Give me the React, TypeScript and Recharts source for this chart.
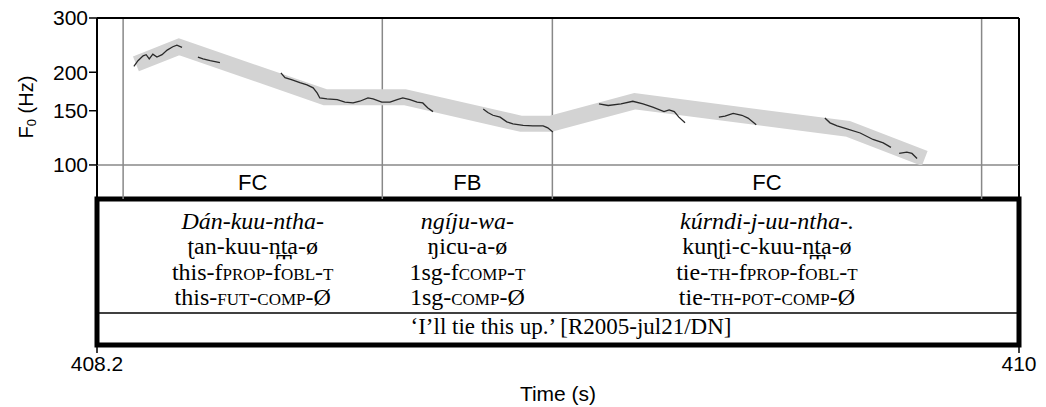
import React from "react";
import { ComposedChart, Line, XAxis, YAxis, ReferenceLine, ReferenceArea } from "recharts";

// time axis (s) and F0 ticks (Hz)
const timeTicks = [408.2, 410];
const hzTicks = [100, 150, 200, 300];

// tier boundaries and labels
const tierEdges = [408.251, 408.757, 409.089, 409.927];
const tierNames = ["FC", "FB", "FC"];

// stylised contour (grey band)
const bandTime = [408.276, 408.36, 408.645, 408.801, 409.028, 409.086, 409.25, 409.666, 409.816];
const bandHz = [213, 242, 166, 166, 136, 136, 161, 131, 105];

// measured F0 traces [time, Hz]
const trace1 = [[408.272, 209], [408.28, 218], [408.29, 226], [408.296, 228], [408.302, 221], [408.309, 229], [408.317, 224], [408.327, 228], [408.337, 236], [408.348, 242], [408.356, 245], [408.366, 241]];
const trace2 = [[408.397, 224], [408.407, 221], [408.421, 218], [408.44, 215]];
const trace3 = [[408.559, 199], [408.567, 192], [408.581, 189], [408.596, 185], [408.61, 182], [408.622, 178], [408.63, 171], [408.635, 165], [408.649, 164], [408.669, 163], [408.684, 160], [408.7, 159], [408.713, 161], [408.729, 165], [408.739, 164], [408.756, 160], [408.772, 160], [408.786, 163], [408.797, 165], [408.811, 163], [408.825, 160], [408.836, 159], [408.846, 153], [408.856, 149]];
const trace4 = [[408.954, 152], [408.963, 148], [408.973, 145], [408.987, 143], [409.0, 138], [409.012, 136], [409.032, 134.5], [409.051, 134], [409.071, 134], [409.08, 132], [409.09, 128]];
const trace5 = [[409.18, 158], [409.198, 156], [409.223, 158], [409.246, 161], [409.266, 158], [409.285, 154], [409.307, 149], [409.317, 151], [409.327, 149], [409.336, 143], [409.348, 137]];
const trace6 = [[409.414, 143], [409.426, 144], [409.442, 147], [409.459, 145], [409.471, 142], [409.487, 135]];
const trace7 = [[409.621, 142], [409.631, 137], [409.645, 134], [409.664, 131], [409.69, 127], [409.715, 121], [409.735, 118], [409.75, 114]];
const trace8 = [[409.766, 109], [409.781, 110], [409.791, 109], [409.801, 105]];

const traces = [trace1, trace2, trace3, trace4, trace5, trace6, trace7, trace8];

const sans = "'Liberation Sans', Arial, sans-serif";
const serif = "'Liberation Serif', 'DejaVu Serif', serif";

const SC = ({ children }: { children: React.ReactNode }) => (
  <span style={{ fontVariant: "small-caps" }}>{children}</span>
);

// gloss lines per tier column
const glossCols = [
  [
    <i>Dán-kuu-ntha-</i>,
    <>ʈan-kuu-n̪t̪a-ø</>,
    <>this-f<SC>prop</SC>-f<SC>obl</SC>-<SC>t</SC></>,
    <>this-<SC>fut</SC>-<SC>comp</SC>-Ø</>
  ],
  [
    <i>ngíju-wa-</i>,
    <>ŋicu-a-ø</>,
    <>1sg-f<SC>comp</SC>-<SC>t</SC></>,
    <>1sg-<SC>comp</SC>-Ø</>
  ],
  [
    <i>kúrndi-j-uu-ntha-.</i>,
    <>kuɳʈi-c-kuu-n̪t̪a-ø</>,
    <>tie-<SC>th</SC>-f<SC>prop</SC>-f<SC>obl</SC>-<SC>t</SC></>,
    <>tie-<SC>th</SC>-<SC>pot</SC>-<SC>comp</SC>-Ø</>
  ]
];

const PLOT_LEFT = 97;
const PLOT_RIGHT = 1019;
const toPx = (t: number) => PLOT_LEFT + ((t - 408.2) / (410 - 408.2)) * (PLOT_RIGHT - PLOT_LEFT);

export default function App() {
  const bandData = bandTime.map((t, i) => ({ t, hz: bandHz[i] }));
  const traceData = traces.map((tr) => tr.map(([t, hz]) => ({ t, hz })));
  const tierData = tierEdges.map((t) => ({ t, y: 180 }));
  const axisFont = { fontSize: 21, fontFamily: sans, fill: "#000" };

  return (
    <div style={{ position: "absolute", left: 0, top: 0, width: 1046, height: 407, background: "#fff", overflow: "hidden" }}>
      {/* tier row, gloss box and time axis */}
      <div style={{ position: "absolute", left: 0, top: 165 }}>
        <ComposedChart data={tierData} width={1046} height={242} margin={{ top: 0, right: 27, left: 97, bottom: 0 }}>
          <XAxis
            type="number"
            dataKey="t"
            domain={[408.2, 410]}
            allowDataOverflow
            ticks={timeTicks}
            height={62}
            tick={axisFont}
            tickSize={8}
            tickMargin={3}
            axisLine={false}
            tickLine={{ stroke: "#000", strokeWidth: 1.5 }}
            tickFormatter={(v: number) => `${v}`}
            label={{ value: "Time (s)", position: "insideBottom", offset: 6, fontSize: 21, fontFamily: sans, fill: "#000" }}
          />
          <YAxis type="number" dataKey="y" domain={[0, 180]} allowDataOverflow hide />
          {tierEdges.map((e) => (
            <ReferenceLine key={e} segment={[{ x: e, y: 146 }, { x: e, y: 180 }]} stroke="#888" strokeWidth={1.5} ifOverflow="visible" />
          ))}
          <ReferenceLine segment={[{ x: 408.2, y: 146 }, { x: 408.2, y: 180 }]} stroke="#000" strokeWidth={2} ifOverflow="visible" />
          <ReferenceLine segment={[{ x: 410, y: 146 }, { x: 410, y: 180 }]} stroke="#000" strokeWidth={2} ifOverflow="visible" />
          {tierNames.map((n, i) => (
            <ReferenceArea
              key={i}
              x1={tierEdges[i]}
              x2={tierEdges[i + 1]}
              y1={146}
              y2={180}
              fill="none"
              stroke="none"
              ifOverflow="visible"
              label={{ value: n, position: "center", fontSize: 22, fontFamily: sans, fill: "#000" }}
            />
          ))}
          <ReferenceLine segment={[{ x: 408.2, y: 32 }, { x: 410, y: 32 }]} stroke="#000" strokeWidth={1.5} ifOverflow="visible" />
          <ReferenceArea x1={408.2} x2={410} y1={0} y2={146} fill="none" stroke="#000" strokeWidth={5} ifOverflow="visible" />
        </ComposedChart>
      </div>

      {/* pitch panel */}
      <div style={{ position: "absolute", left: 0, top: 0 }}>
        <ComposedChart data={bandData} width={1046} height={200} margin={{ top: 18, right: 27, left: 0, bottom: 35 }}>
          <XAxis type="number" dataKey="t" domain={[408.2, 410]} allowDataOverflow hide />
          <YAxis
            type="number"
            scale="log"
            domain={[99.97, 300]}
            allowDataOverflow
            ticks={hzTicks}
            interval={0}
            width={97}
            tick={axisFont}
            tickSize={8}
            tickMargin={1}
            axisLine={{ stroke: "#000", strokeWidth: 2 }}
            tickLine={{ stroke: "#000", strokeWidth: 1.5 }}
            label={{
              content: () => (
                <text x={26} y={107} transform="rotate(-90, 26, 107)" textAnchor="middle" dominantBaseline="central" fontSize={20} fontFamily={sans} fill="#000">
                  F<tspan dy={5} fontSize={13}>0</tspan>
                  <tspan dy={-5}> (Hz)</tspan>
                </text>
              )
            }}
          />
          <ReferenceLine y={100} stroke="#888" strokeWidth={1.5} ifOverflow="visible" />
          {tierEdges.map((e) => (
            <ReferenceLine key={e} x={e} stroke="#888" strokeWidth={1.5} ifOverflow="visible" />
          ))}
          <Line
            data={bandData}
            dataKey="hz"
            stroke="#d3d3d3"
            strokeWidth={16}
            strokeLinecap="butt"
            strokeLinejoin="miter"
            dot={false}
            isAnimationActive={false}
          />
          {traceData.map((d, i) => (
            <Line
              key={i}
              data={d}
              dataKey="hz"
              stroke="#2a2a2a"
              strokeWidth={1.3}
              dot={false}
              isAnimationActive={false}
            />
          ))}
          <ReferenceLine y={300} stroke="#000" strokeWidth={2} ifOverflow="visible" />
          <ReferenceLine x={410} stroke="#000" strokeWidth={2} ifOverflow="visible" />
        </ComposedChart>
      </div>

      {/* interlinear gloss, centred on each tier interval */}
      {glossCols.map((lines, i) => {
        const center = (toPx(tierEdges[i]) + toPx(tierEdges[i + 1])) / 2;
        return (
          <div
            key={i}
            style={{
              position: "absolute",
              left: center - 160,
              top: 209,
              width: 320,
              textAlign: "center",
              fontFamily: serif,
              fontSize: 24,
              lineHeight: "25.3px",
              color: "#000",
              whiteSpace: "nowrap"
            }}
          >
            {lines.map((l, j) => (
              <div key={j}>{l}</div>
            ))}
          </div>
        );
      })}
      <div
        style={{
          position: "absolute",
          left: 571 - 250,
          top: 314,
          width: 500,
          textAlign: "center",
          fontFamily: serif,
          fontSize: 23,
          lineHeight: "26px",
          color: "#000",
          whiteSpace: "nowrap"
        }}
      >
        ‘I’ll tie this up.’ [R2005-jul21/DN]
      </div>
    </div>
  );
}
